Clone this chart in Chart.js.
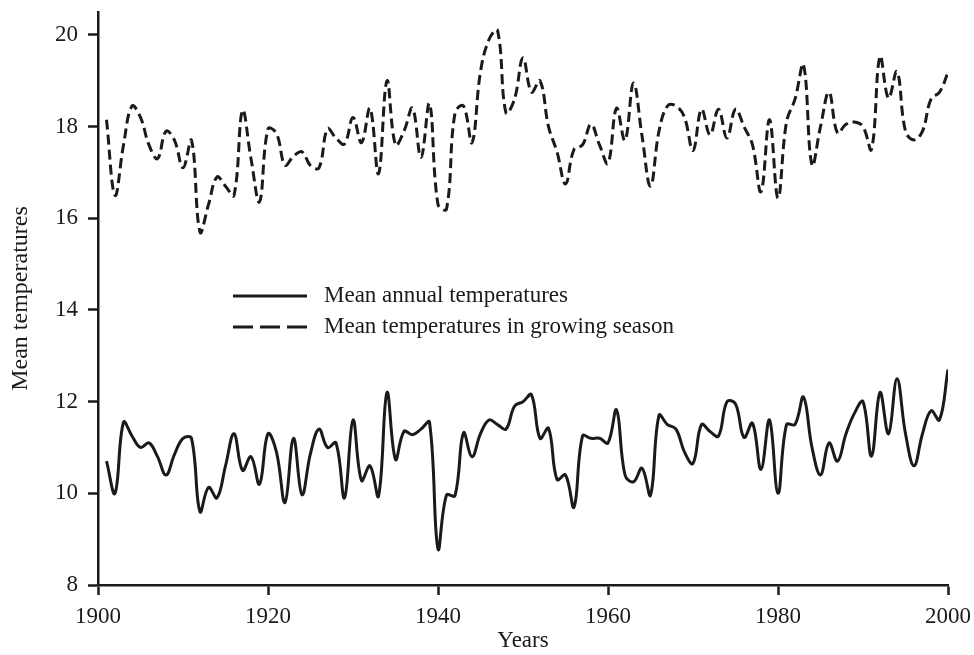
<!DOCTYPE html>
<html>
<head>
<meta charset="utf-8">
<script src="https://cdn.jsdelivr.net/npm/chart.js@4/dist/chart.umd.min.js"></script>
<style>
html,body{margin:0;padding:0;background:#fff;}
#wrap{width:974px;height:655px;}
</style>
</head>
<body>
<div id="wrap"><canvas id="c" width="974" height="655"></canvas></div>
<script>
const firstYear = 1901;
const annualTemps = [
10.7,10.0,11.55,11.25,11.0,11.1,10.8,10.4,10.85,11.2,
11.2,9.6,10.13,9.9,10.6,11.3,10.5,10.8,10.2,11.3,
10.9,9.8,11.2,9.97,10.87,11.4,11.0,11.1,9.9,11.6,
10.28,10.6,9.94,12.2,10.74,11.35,11.28,11.4,11.55,8.79,
9.96,9.95,11.32,10.8,11.3,11.6,11.5,11.4,11.9,12.0,
12.15,11.2,11.42,10.3,10.4,9.7,11.25,11.2,11.2,11.1,
11.82,10.4,10.25,10.55,9.96,11.7,11.5,11.4,10.9,10.65,
11.5,11.35,11.25,12.0,11.95,11.22,11.53,10.52,11.6,10.0,
11.5,11.5,12.1,11.0,10.4,11.1,10.7,11.3,11.75,12.0,
10.81,12.2,11.3,12.5,11.3,10.6,11.3,11.8,11.6,12.7
];
const growingTemps = [
18.15,16.5,17.6,18.45,18.2,17.6,17.3,17.9,17.7,17.1,
17.7,15.7,16.3,16.9,16.7,16.5,18.35,17.3,16.36,17.95,
17.85,17.16,17.35,17.45,17.15,17.1,17.95,17.75,17.62,18.2,
17.65,18.4,16.97,19.0,17.6,17.9,18.4,17.33,18.5,16.3,
16.2,18.3,18.45,17.65,19.2,19.9,20.1,18.3,18.6,19.5,
18.75,19.0,18.0,17.45,16.75,17.5,17.6,18.05,17.6,17.2,
18.4,17.7,18.95,17.8,16.7,17.9,18.45,18.45,18.2,17.48,
18.38,17.82,18.38,17.75,18.38,18.0,17.6,16.58,18.15,16.44,
18.1,18.6,19.35,17.16,18.0,18.75,17.86,18.05,18.1,18.0,
17.5,19.53,18.62,19.2,17.9,17.71,17.9,18.6,18.75,19.18
];
const years = annualTemps.map((_, i) => firstYear + i);
const xTicks = [1900, 1920, 1940, 1960, 1980, 2000];
const yTicks = [8, 10, 12, 14, 16, 18, 20];
const seriesNames = ["Mean annual temperatures", "Mean temperatures in growing season"];

const FONT = "'Liberation Serif', 'Times New Roman', serif";

const legendPlugin = {
  id: 'inlineLegend',
  afterDatasetsDraw(chart) {
    const ctx = chart.ctx;
    const rows = [
      {y: 296, dash: [], label: seriesNames[0]},
      {y: 327, dash: [20, 7], label: seriesNames[1]}
    ];
    ctx.save();
    rows.forEach(r => {
      ctx.strokeStyle = '#1a1a1a';
      ctx.lineWidth = 3;
      ctx.setLineDash(r.dash);
      ctx.beginPath();
      ctx.moveTo(233, r.y);
      ctx.lineTo(307, r.y);
      ctx.stroke();
      ctx.setLineDash([]);
      ctx.fillStyle = '#1a1a1a';
      ctx.font = "23px " + FONT;
      ctx.textBaseline = 'middle';
      ctx.textAlign = 'left';
      ctx.fillText(r.label, 324, r.y);
    });
    ctx.restore();
  }
};

new Chart(document.getElementById('c'), {
  type: 'line',
  data: {
    datasets: [
      {
        label: seriesNames[0],
        data: years.map((y, i) => ({x: y, y: annualTemps[i]})),
        borderColor: '#1a1a1a',
        borderWidth: 3,
        pointRadius: 0,
        tension: 0.4,
        fill: false
      },
      {
        label: seriesNames[1],
        data: years.map((y, i) => ({x: y, y: growingTemps[i]})),
        borderColor: '#1a1a1a',
        borderWidth: 3,
        borderDash: [10, 5],
        pointRadius: 0,
        tension: 0.4,
        fill: false
      }
    ]
  },
  options: {
    responsive: false,
    animation: false,
    layout: {padding: {top: 12, right: 26, left: 0, bottom: 0}},
    plugins: {legend: {display: false}, tooltip: {enabled: false}},
    scales: {
      x: {
        type: 'linear',
        min: 1900, max: 2000,
        afterBuildTicks: s => { s.ticks = xTicks.map(v => ({value: v})); },
        afterFit: s => { s.height = 70; s.paddingLeft = 0; s.paddingRight = 0; },
        grid: {drawOnChartArea: false, drawTicks: true, tickLength: 10, tickWidth: 2.5, tickColor: '#1a1a1a'},
        border: {display: true, color: '#1a1a1a', width: 2.5},
        ticks: {color: '#1a1a1a', font: {family: FONT, size: 23}, padding: 8, maxRotation: 0,
          callback: v => String(v)},
        title: {display: true, text: 'Years', color: '#1a1a1a', font: {family: FONT, size: 23}, padding: {top: 0, bottom: 0}}
      },
      y: {
        type: 'linear',
        min: 8, max: 20.5,
        afterBuildTicks: s => { s.ticks = yTicks.map(v => ({value: v})); },
        afterFit: s => { s.width = 98; s.paddingTop = 0; s.paddingBottom = 0; },
        grid: {drawOnChartArea: false, drawTicks: true, tickLength: 10, tickWidth: 2.5, tickColor: '#1a1a1a'},
        border: {display: true, color: '#1a1a1a', width: 2.5},
        ticks: {color: '#1a1a1a', font: {family: FONT, size: 23}, padding: 10,
          callback: v => String(v)},
        title: {display: true, text: 'Mean temperatures', color: '#1a1a1a', font: {family: FONT, size: 24}, padding: {top: 6, bottom: 0}}
      }
    }
  },
  plugins: [legendPlugin]
});
</script>
</body>
</html>
